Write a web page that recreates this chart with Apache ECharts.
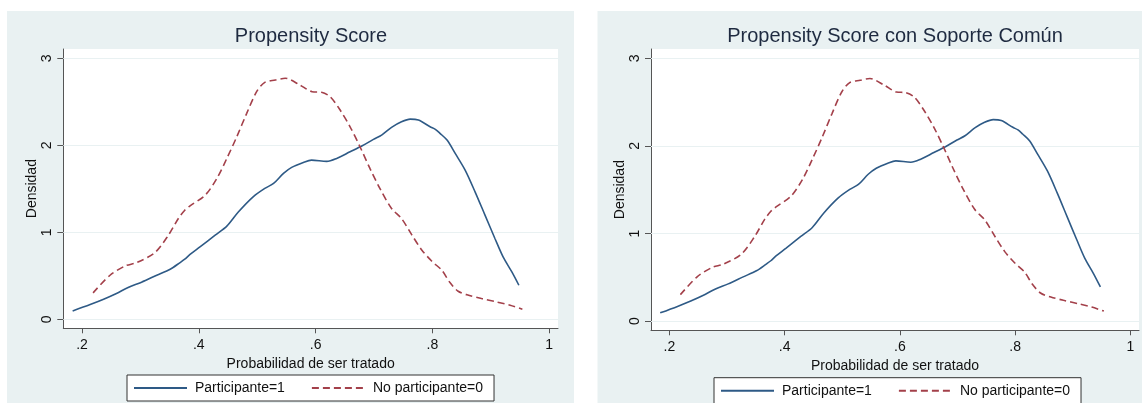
<!DOCTYPE html>
<html><head><meta charset="utf-8">
<script src="https://cdn.jsdelivr.net/npm/echarts@6/dist/echarts.min.js"></script>
<style>html,body{margin:0;padding:0;background:#fff}#c{width:1142px;height:403px}</style>
</head><body><div id="c"></div>
<script>
// ---- data ----
const participanteX = [0.184,0.214,0.237,0.259,0.279,0.302,0.328,0.351,0.368,0.376,0.385,0.402,0.428,0.448,0.468,0.493,0.513,0.528,0.545,0.559,0.579,0.593,0.619,0.636,0.659,0.679,0.699,0.713,0.730,0.747,0.762,0.776,0.796,0.805,0.813,0.825,0.839,0.856,0.873,0.890,0.907,0.921,0.936,0.948];
const participanteY = [0.095,0.169,0.230,0.296,0.365,0.426,0.506,0.575,0.652,0.690,0.745,0.832,0.967,1.070,1.235,1.407,1.504,1.561,1.677,1.746,1.803,1.830,1.815,1.849,1.925,1.991,2.068,2.117,2.206,2.270,2.301,2.290,2.213,2.183,2.137,2.060,1.907,1.715,1.465,1.197,0.929,0.717,0.544,0.391];
const noParticipanteX = [0.219,0.248,0.274,0.294,0.325,0.348,0.365,0.376,0.385,0.411,0.431,0.448,0.465,0.482,0.499,0.513,0.531,0.548,0.573,0.594,0.610,0.625,0.642,0.659,0.676,0.693,0.710,0.730,0.747,0.765,0.782,0.799,0.816,0.830,0.844,0.862,0.884,0.910,0.933,0.954];
const noParticipanteY = [0.303,0.506,0.613,0.652,0.767,0.967,1.159,1.254,1.304,1.427,1.619,1.849,2.098,2.367,2.616,2.724,2.750,2.770,2.693,2.616,2.609,2.558,2.405,2.213,1.983,1.734,1.504,1.274,1.159,0.967,0.794,0.667,0.564,0.422,0.322,0.276,0.238,0.199,0.161,0.115];
const xTicks = [0.2,0.4,0.6,0.8,1];
const yTicks = [0,1,2,3];
const gridValues = [0,1,2,3];
const titles = ['Propensity Score','Propensity Score con Soporte Común'];
const seriesNames = ['Participante=1','No participante=0'];
const xAxisTitle = 'Probabilidad de ser tratado';
const yAxisTitle = 'Densidad';

// ---- layout / style ----
const FONT = 'Liberation Sans, Arial, sans-serif';
const BG = '#e9f1f2';
const AXIS = '#555';
const BLUE = '#2e5a86';
const RED = '#a3404a';
const panels = [
  {grid:{left:63.3, top:49, width:494.7, height:279.3}, titleX:311, legend:{left:127, top:375}, bg:{x:7, y:11, width:567, height:392}},
  {grid:{left:651, top:49, width:488, height:281.3}, titleX:895, legend:{left:714, top:377.7}, bg:{x:597.5, y:11, width:544.5, height:392}}
];

const pairs = (xs, ys) => xs.map((x, i) => [x, ys[i]]);
const fmtX = v => { const s = String(Math.round(v * 10) / 10); return s.startsWith('0.') ? s.slice(1) : s; };

const option = {
  backgroundColor: '#fff',
  animation: false,
  graphic: panels.map(p => ({type:'rect', z:-100, shape:p.bg, style:{fill:BG}, silent:true})),
  title: panels.map((p, i) => ({
    text: titles[i], left: p.titleX, top: 36, padding: 0,
    textAlign: 'center', textVerticalAlign: 'middle',
    textStyle: {fontFamily: FONT, fontSize: 20, fontWeight: 'normal', color: '#1e2a40'}
  })),
  legend: panels.map(p => ({
    data: seriesNames, left: p.legend.left, top: p.legend.top,
    orient: 'horizontal', padding: [6, 11, 6, 6], itemGap: 26,
    itemWidth: 53, itemHeight: 14,
    backgroundColor: '#fff', borderColor: '#333', borderWidth: 1, borderRadius: 0,
    selectedMode: false,
    itemStyle: {opacity: 0, borderWidth: 0},
    textStyle: {fontFamily: FONT, fontSize: 14, color: '#111', padding: [0, 0, 0, 3]}
  })),
  grid: panels.map(p => Object.assign({show: true, backgroundColor: '#fff', borderWidth: 0, containLabel: false}, p.grid)),
  xAxis: panels.map((p, i) => ({
    type: 'value', gridIndex: i, min: 0.168, max: 1.015,
    name: xAxisTitle, nameLocation: 'middle', nameGap: 25,
    nameTextStyle: {fontFamily: FONT, fontSize: 14, color: '#111'},
    axisLine: {show: true, onZero: false, lineStyle: {color: AXIS, width: 1}},
    axisTick: {show: true, length: 5, customValues: xTicks, lineStyle: {color: AXIS}},
    axisLabel: {customValues: xTicks, formatter: fmtX, margin: 10, fontFamily: FONT, fontSize: 14, color: '#111'},
    splitLine: {show: false}
  })),
  yAxis: panels.map((p, i) => ({
    type: 'value', gridIndex: i, min: -0.104, max: 3.107,
    name: yAxisTitle, nameLocation: 'middle', nameGap: 24, nameRotate: 90,
    nameTextStyle: {fontFamily: FONT, fontSize: 14, color: '#111'},
    axisLine: {show: true, onZero: false, lineStyle: {color: AXIS, width: 1}},
    axisTick: {show: true, length: 6, customValues: yTicks, lineStyle: {color: AXIS}},
    axisLabel: {customValues: yTicks, rotate: 90, margin: 9, fontFamily: FONT, fontSize: 14, color: '#111'},
    splitLine: {show: false}
  })),
  series: []
};

panels.forEach((p, i) => {
  option.series.push({
    name: seriesNames[0], type: 'line', xAxisIndex: i, yAxisIndex: i,
    data: pairs(participanteX, participanteY), showSymbol: false, symbol: 'none', smooth: 0.3,
    lineStyle: {color: BLUE, width: 1.6, type: 'solid'}, itemStyle: {color: BLUE}, z: 3,
    markLine: {silent: true, symbol: 'none', label: {show: false}, z: 1,
      lineStyle: {color: BG, width: 1.2, type: 'solid'},
      data: gridValues.map(v => ({yAxis: v}))}
  });
  option.series.push({
    name: seriesNames[1], type: 'line', xAxisIndex: i, yAxisIndex: i,
    data: pairs(noParticipanteX, noParticipanteY), showSymbol: false, symbol: 'none', smooth: 0.3,
    lineStyle: {color: RED, width: 1.6, type: [7, 4]}, itemStyle: {color: RED}, z: 4
  });
});

const chart = echarts.init(document.getElementById('c'), null, {renderer: 'canvas'});
chart.setOption(option);
</script></body></html>
